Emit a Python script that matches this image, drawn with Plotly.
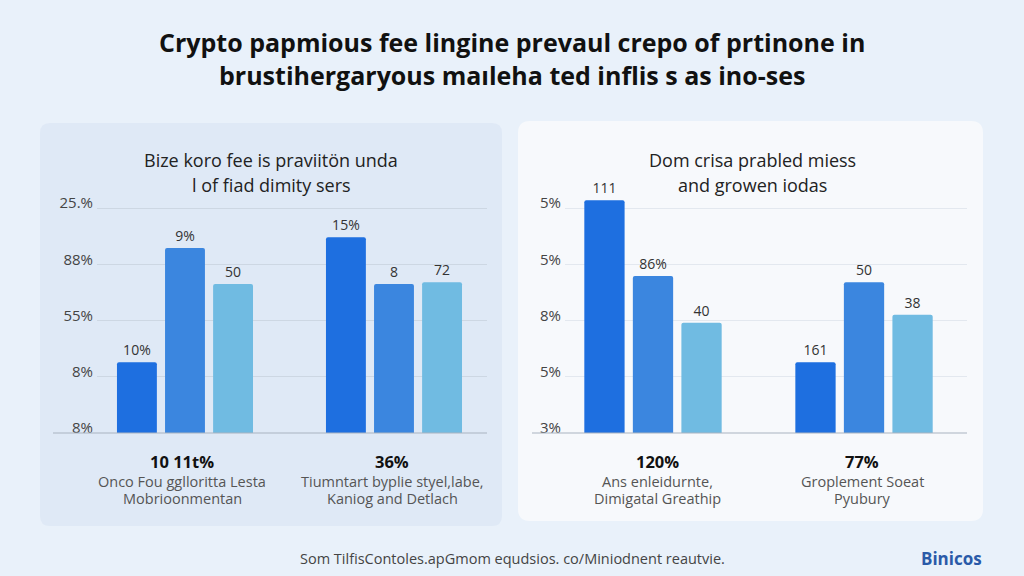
import plotly.graph_objects as go

W, H = 1024, 576

# ---------------- data ----------------
title_lines = ["Crypto papmious fee lingine prevaul crepo of prtinone in",
               "brustihergaryous maıleha ted inflis s as ino-ses"]

left_title = ["Bize koro fee is praviitön unda", "l of fiad dimity sers"]
left_groups = [0, 1]
left_s1 = [1.26, 3.48]
left_s2 = [3.29, 2.65]
left_s3 = [2.65, 2.68]
left_s1_labels = ["10%", "15%"]
left_s2_labels = ["9%", "8"]
left_s3_labels = ["50", "72"]
left_tickvals = [0, 1, 2, 3, 4]
left_ticktext = ["8%", "8%", "55%", "88%", "25.%"]

right_title = ["Dom crisa prabled miess", "and growen iodas"]
right_groups = [0, 1]
right_s1 = [4.14, 1.26]
right_s2 = [2.79, 2.68]
right_s3 = [1.96, 2.10]
right_s1_labels = ["111", "161"]
right_s2_labels = ["86%", "50"]
right_s3_labels = ["40", "38"]
right_tickvals = [0, 1, 2, 3, 4]
right_ticktext = ["3%", "5%", "8%", "5%", "5%"]

left_stats = [("10 11t%", "Onco Fou gglloritta Lesta", "Mobrioonmentan"),
              ("36%", "Tiumntart byplie styel,labe,", "Kaniog and Detlach")]
right_stats = [("120%", "Ans enleidurnte,", "Dimigatal Greathip"),
               ("77%", "Groplement Soeat", "Pyubury")]

footer = "Som TilfisContoles.apGmom equdsios. co/Miniodnent reautvie."
brand = "Binicos"

# ---------------- style ----------------
C1, C2, C3 = "#1e6fe0", "#3b86df", "#70bbe2"
FONT = "Open Sans"


def px(x):
    return x / W


def py(y):
    return 1 - y / H


def rounded(x0, y0, x1, y1, r):
    rx, ry = r / W, r / H
    X0, X1 = px(x0), px(x1)
    Y0, Y1 = py(y0), py(y1)
    return (f"M {X0+rx},{Y0} L {X1-rx},{Y0} Q {X1},{Y0} {X1},{Y0-ry} "
            f"L {X1},{Y1+ry} Q {X1},{Y1} {X1-rx},{Y1} L {X0+rx},{Y1} "
            f"Q {X0},{Y1} {X0},{Y1+ry} L {X0},{Y0-ry} Q {X0},{Y0} {X0+rx},{Y0} Z")


fig = go.Figure()

def add_bars(xs, vals, labels, color, xa, ya):
    fig.add_trace(go.Bar(
        x=xs, y=vals, text=labels, textposition="outside",
        textfont=dict(family=FONT, size=14, color="#333"),
        marker=dict(color=color, line=dict(width=0), cornerradius=2),
        xaxis=xa, yaxis=ya, cliponaxis=False, showlegend=False,
        hoverinfo="skip"))

add_bars(left_groups, left_s1, left_s1_labels, C1, "x", "y")
add_bars(left_groups, left_s2, left_s2_labels, C2, "x", "y")
add_bars(left_groups, left_s3, left_s3_labels, C3, "x", "y")
add_bars(right_groups, right_s1, right_s1_labels, C1, "x2", "y2")
add_bars(right_groups, right_s2, right_s2_labels, C2, "x2", "y2")
add_bars(right_groups, right_s3, right_s3_labels, C3, "x2", "y2")

ydom = [py(433), py(190)]
yrange = [0, (433 - 190) / 56.25]

axis_common_y = dict(range=yrange, domain=ydom, showline=False, zeroline=False,
                     ticks="", ticklabelstandoff=3, ticklabelshift=-5, automargin=False,
                     tickfont=dict(family=FONT, size=15, color="#444"))

shapes = [
    dict(type="path", xref="paper", yref="paper", path=rounded(40, 123, 502, 526, 10),
         fillcolor="#dfe9f6", line=dict(width=0), layer="below"),
    dict(type="path", xref="paper", yref="paper", path=rounded(518, 121, 983, 521, 12),
         fillcolor="#f7f9fc", line=dict(width=0), layer="below"),
    dict(type="line", xref="paper", yref="paper", x0=px(53), x1=px(487), y0=py(433), y1=py(433),
         line=dict(color="#a9b4c0", width=1.2)),
    dict(type="line", xref="paper", yref="paper", x0=px(532), x1=px(967), y0=py(433), y1=py(433),
         line=dict(color="#a9b4c0", width=1.2)),
]

annotations = []
def text(x, y, s, size, color="#222", weight=400):
    annotations.append(dict(xref="paper", yref="paper", x=px(x), y=py(y), text=s,
                            showarrow=False, xanchor="center", yanchor="middle",
                            font=dict(family=FONT, size=size, color=color, weight=weight)))

text(512, 42, title_lines[0], 25, "#111", weight=700)
text(512, 75, title_lines[1], 25, "#111", weight=700)
text(271, 160, left_title[0], 18, "#222", weight=500)
text(271, 185, left_title[1], 18, "#222", weight=500)
text(752, 160, right_title[0], 18, "#222", weight=500)
text(752, 185, right_title[1], 18, "#222", weight=500)

for cx, st in zip([182, 392], left_stats):
    text(cx, 461, st[0], 16.5, "#111", weight=700)
    text(cx, 481, st[1], 14.5, "#555")
    text(cx, 498, st[2], 14.5, "#555")
for cx, st in zip([657, 862], right_stats):
    text(cx, 461, st[0], 16.5, "#111", weight=700)
    text(cx, 481, st[1], 14.5, "#555")
    text(cx, 498, st[2], 14.5, "#555")

text(512, 558, footer, 14.5, "#444")
text(951, 558, brand, 17, "#2a5aa8", weight=700)

fig.update_layout(
    width=W, height=H, margin=dict(l=0, r=0, t=0, b=0, pad=0, autoexpand=False),
    paper_bgcolor="#e9f1fa", plot_bgcolor="rgba(0,0,0,0)",
    barmode="group", bargap=0.31, bargroupgap=0.17,
    xaxis=dict(domain=[px(97), px(487)], range=[-0.421, 1.445], visible=False,
               automargin=False),
    yaxis=dict(tickvals=left_tickvals, ticktext=left_ticktext, gridcolor="#cdd7e3",
               **axis_common_y),
    xaxis2=dict(domain=[px(565), px(967)], range=[-0.417, 1.488], visible=False,
                anchor="y2", automargin=False),
    yaxis2=dict(tickvals=right_tickvals, ticktext=right_ticktext, gridcolor="#e3e8ef",
                anchor="x2", **axis_common_y),
    shapes=shapes, annotations=annotations,
)

post = """
document.documentElement.style.margin='0';
document.documentElement.style.overflow='hidden';
document.body.style.margin='0';
document.body.style.overflow='hidden';
document.body.style.background='#e9f1fa';
"""

fig.write_html("out.html", post_script=post, config={"displayModeBar": False})
